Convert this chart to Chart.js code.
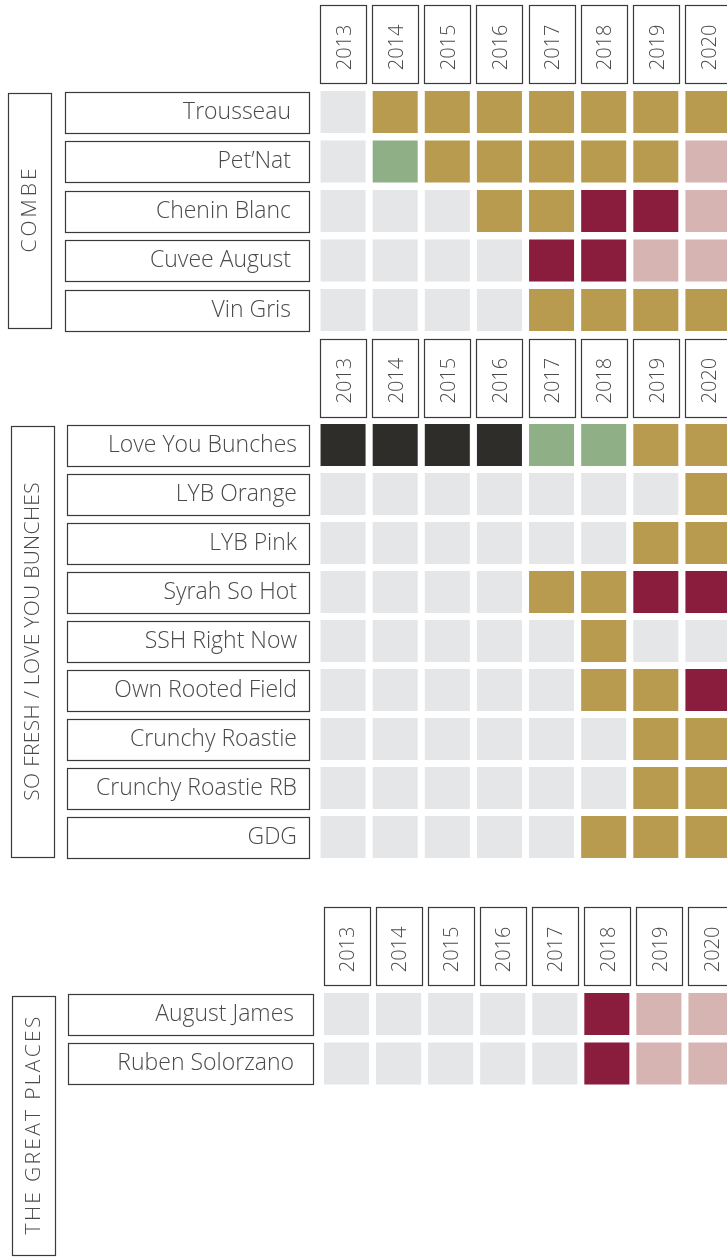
<!DOCTYPE html>
<html>
<head>
<meta charset="utf-8">
<script src="https://cdn.jsdelivr.net/npm/chart.js@4.4.1/dist/chart.umd.min.js"></script>
<style>
  html, body { margin: 0; padding: 0; background: #fff; overflow: hidden; width: 727px; height: 1258px; position: relative; }
  canvas { position: absolute; left: 0; }
</style>
</head>
<body>
<canvas id="combeChart" width="734" height="340" style="top:0px"></canvas>
<canvas id="freshChart" width="734" height="540" style="top:330px"></canvas>
<canvas id="placesChart" width="737" height="358" style="top:900px"></canvas>
<script>
// vintages (columns)
const YEARS = ["2013", "2014", "2015", "2016", "2017", "2018", "2019", "2020"];

// n = none, g = gold, v = green, r = red, p = pink, k = black
const COMBE_ROWS = ["Trousseau", "Pet\u2019Nat", "Chenin Blanc", "Cuvee August", "Vin Gris"];
const COMBE_STATUS = [
  ["n", "g", "g", "g", "g", "g", "g", "g"],
  ["n", "v", "g", "g", "g", "g", "g", "p"],
  ["n", "n", "n", "g", "g", "r", "r", "p"],
  ["n", "n", "n", "n", "r", "r", "p", "p"],
  ["n", "n", "n", "n", "g", "g", "g", "g"]
];

const FRESH_ROWS = ["Love You Bunches", "LYB Orange", "LYB Pink", "Syrah So Hot", "SSH Right Now",
  "Own Rooted Field", "Crunchy Roastie", "Crunchy Roastie RB", "GDG"];
const FRESH_STATUS = [
  ["k", "k", "k", "k", "v", "v", "g", "g"],
  ["n", "n", "n", "n", "n", "n", "n", "g"],
  ["n", "n", "n", "n", "n", "n", "g", "g"],
  ["n", "n", "n", "n", "g", "g", "r", "r"],
  ["n", "n", "n", "n", "n", "g", "n", "n"],
  ["n", "n", "n", "n", "n", "g", "g", "r"],
  ["n", "n", "n", "n", "n", "n", "g", "g"],
  ["n", "n", "n", "n", "n", "n", "g", "g"],
  ["n", "n", "n", "n", "n", "g", "g", "g"]
];

const PLACES_ROWS = ["August James", "Ruben Solorzano"];
const PLACES_STATUS = [
  ["n", "n", "n", "n", "n", "r", "p", "p"],
  ["n", "n", "n", "n", "n", "r", "p", "p"]
];

const COLORS = { n: "#e5e6e8", g: "#b89b4e", v: "#8fb087", r: "#8a1c3e", p: "#d5b4b1", k: "#2e2d29" };
const TEXT = "#4a4a4a";
const LINE = "#3a3a3a";
const CELL_W = 45;
const CELL_H = 42;

// draws header boxes, name boxes and the rotated group label
const boxPlugin = {
  id: "boxes",
  afterDraw(chart, args, o) {
    const { ctx, chartArea, scales: { x, y } } = chart;
    ctx.save();
    ctx.strokeStyle = LINE;
    ctx.lineWidth = 1.2;
    x.ticks.forEach((t, i) => {
      const cx = x.getPixelForTick(i);
      ctx.strokeRect(Math.round(cx - 23) + 0.5, Math.round(chartArea.top - 82) + 0.5, 46, 78);
    });
    y.ticks.forEach(t => {
      const cy = y.getPixelForValue(t.value);
      const right = y.right - 8;
      ctx.strokeRect(o.labelLeft + 0.5, Math.round(cy - 20.5) + 0.5, Math.round(right - o.labelLeft), 41);
    });
    const g = o.group;
    ctx.strokeRect(g.left + 0.5, g.top + 0.5, g.width, g.bottom - g.top);
    ctx.translate(g.left + g.width / 2, (g.top + g.bottom) / 2);
    ctx.rotate(-Math.PI / 2);
    ctx.fillStyle = TEXT;
    ctx.font = "300 21px 'Open Sans'";
    ctx.letterSpacing = g.spacing + "px";
    ctx.textAlign = "center";
    ctx.textBaseline = "middle";
    ctx.fillText(g.text, g.spacing / 2, 1);
    ctx.restore();
  }
};

function buildSection(id, cfg) {
  const n = cfg.rows.length;
  const half = CELL_H / 2 / cfg.rowPitch;
  return new Chart(document.getElementById(id), {
    type: "bar",
    data: {
      labels: YEARS,
      datasets: cfg.rows.map((name, i) => ({
        label: name,
        data: cfg.status[i].map(() => [i - half, i + half]),
        backgroundColor: cfg.status[i].map(c => COLORS[c]),
        grouped: false,
        categoryPercentage: 1,
        barPercentage: CELL_W / cfg.colPitch,
        borderWidth: 0
      }))
    },
    options: {
      responsive: false,
      devicePixelRatio: 1,
      animation: false,
      events: [],
      layout: { padding: { left: 0, top: 0, right: 0, bottom: cfg.padBottom } },
      plugins: {
        legend: { display: false },
        tooltip: { enabled: false },
        boxes: { labelLeft: cfg.labelLeft, group: cfg.group }
      },
      scales: {
        x: {
          type: "category",
          position: "top",
          offset: true,
          grid: { display: false },
          border: { display: false },
          ticks: {
            minRotation: 90, maxRotation: 90, autoSkip: false, padding: 9, labelOffset: 26,
            color: TEXT, font: { family: "'Open Sans'", size: 20, weight: 300 }
          },
          afterFit: s => { s.height = cfg.top; s.paddingLeft = 0; s.paddingRight = 0; }
        },
        y: {
          type: "linear",
          reverse: true,
          min: -0.5,
          max: n - 0.5,
          grid: { display: false },
          border: { display: false },
          afterBuildTicks: s => { s.ticks = cfg.rows.map((_, i) => ({ value: i })); },
          ticks: {
            autoSkip: false, padding: cfg.labelPad,
            callback: v => cfg.rows[v],
            color: TEXT, font: { family: "'Open Sans'", size: 23, weight: 300 }
          },
          afterFit: s => { s.width = cfg.left; s.paddingTop = 0; s.paddingBottom = 0; }
        }
      }
    },
    plugins: [boxPlugin]
  });
}

buildSection("combeChart", {
  rows: COMBE_ROWS, status: COMBE_STATUS,
  left: 317, top: 87.25, padBottom: 5.25, rowPitch: 49.5, colPitch: 52.1,
  labelLeft: 65, labelPad: 18,
  group: { text: "COMBE", left: 8, width: 43, top: 93, bottom: 328, spacing: 3 }
});

buildSection("freshChart", {
  rows: FRESH_ROWS, status: FRESH_STATUS,
  left: 317, top: 90.5, padBottom: 8.5, rowPitch: 49, colPitch: 52.1,
  labelLeft: 67, labelPad: 12,
  group: { text: "SO FRESH / LOVE YOU BUNCHES", left: 11, width: 43, top: 96, bottom: 527, spacing: 0.3 }
});

buildSection("placesChart", {
  rows: PLACES_ROWS, status: PLACES_STATUS,
  left: 320.5, top: 89.25, padBottom: 169.75, rowPitch: 49.5, colPitch: 52,
  labelLeft: 68, labelPad: 18.5,
  group: { text: "THE GREAT PLACES", left: 12, width: 43, top: 96, bottom: 355, spacing: 2.3 }
});
</script>
</body>
</html>
